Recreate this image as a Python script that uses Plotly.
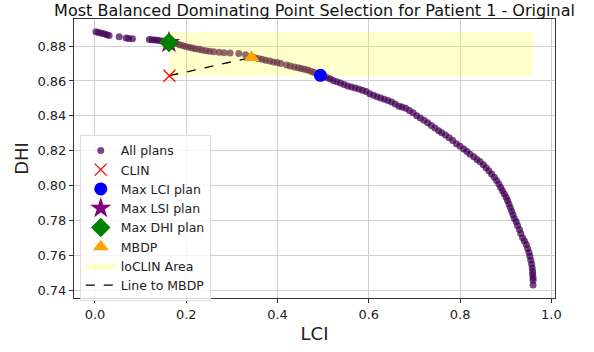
import plotly.graph_objects as go

# All plans (LCI, DHI)
lci = [0.002, 0.008, 0.014, 0.020, 0.026, 0.031, 0.053, 0.068, 0.074, 0.082,
       0.119, 0.125, 0.131, 0.137, 0.143, 0.150, 0.156,
       0.165, 0.172, 0.178, 0.185, 0.192, 0.199, 0.206, 0.213, 0.220, 0.228,
       0.235, 0.243, 0.251, 0.260, 0.272, 0.283, 0.296, 0.315, 0.330,
       0.350, 0.358, 0.366, 0.374, 0.383, 0.391, 0.399, 0.407, 0.420, 0.428,
       0.437, 0.445, 0.452, 0.459, 0.466, 0.473, 0.480, 0.487, 0.494, 0.501,
       0.508, 0.515, 0.522, 0.530, 0.538, 0.546, 0.554, 0.562, 0.570, 0.578,
       0.586, 0.594, 0.602, 0.610, 0.618, 0.626, 0.634, 0.642, 0.650, 0.658,
       0.666, 0.673, 0.681, 0.689, 0.697, 0.705, 0.713, 0.721, 0.729, 0.737,
       0.745, 0.753, 0.760, 0.768, 0.776, 0.784, 0.792, 0.800, 0.808, 0.815,
       0.822, 0.830, 0.837, 0.844, 0.851, 0.857, 0.863, 0.869, 0.875, 0.880,
       0.885, 0.889, 0.893, 0.897, 0.901, 0.904, 0.907, 0.910, 0.913, 0.916,
       0.919, 0.923, 0.926, 0.930, 0.933, 0.937, 0.941, 0.945, 0.948, 0.951,
       0.953, 0.955, 0.957, 0.958, 0.959, 0.959, 0.960, 0.960, 0.960]
dhi = [0.8882, 0.8878, 0.8874, 0.8870, 0.8865, 0.8860, 0.8853, 0.8846, 0.8843, 0.8842,
       0.8837, 0.8836, 0.8835, 0.8833, 0.8831, 0.8828, 0.8826,
       0.8822, 0.8818, 0.8814, 0.8808, 0.8803, 0.8797, 0.8793, 0.8789, 0.8785, 0.8781,
       0.8777, 0.8773, 0.8770, 0.8767, 0.8764, 0.8762, 0.8760, 0.8757, 0.8750,
       0.8733, 0.8728, 0.8724, 0.8719, 0.8714, 0.8709, 0.8705, 0.8700, 0.8692, 0.8686,
       0.8680, 0.8675, 0.8671, 0.8667, 0.8662, 0.8656, 0.8648, 0.8640, 0.8632, 0.8626,
       0.8620, 0.8612, 0.8603, 0.8595, 0.8588, 0.8580, 0.8571, 0.8565, 0.8560, 0.8554,
       0.8546, 0.8540, 0.8527, 0.8518, 0.8510, 0.8502, 0.8495, 0.8488, 0.8480, 0.8468,
       0.8455, 0.8450, 0.8443, 0.8430, 0.8418, 0.8400, 0.8388, 0.8375, 0.8360, 0.8345,
       0.8330, 0.8315, 0.8303, 0.8290, 0.8275, 0.8258, 0.8240, 0.8225, 0.8210, 0.8195,
       0.8180, 0.8165, 0.8150, 0.8137, 0.8120, 0.8102, 0.8085, 0.8066, 0.8048, 0.8030,
       0.8010, 0.7990, 0.7970, 0.7952, 0.7933, 0.7915, 0.7895, 0.7875, 0.7853, 0.7833,
       0.7812, 0.7793, 0.7772, 0.7748, 0.7725, 0.7702, 0.7683, 0.7663, 0.7640, 0.7617,
       0.7595, 0.7573, 0.7550, 0.7528, 0.7508, 0.7490, 0.7472, 0.7458, 0.7430]

clin = (0.163, 0.863)
max_lci = (0.494, 0.8632)
max_lsi = (0.162, 0.882)
max_dhi = (0.162, 0.882)
mbdp = (0.343, 0.8735)
area_x = [0.163, 0.960]
area_y = [0.863, 0.888]

fig = go.Figure()

fig.add_trace(go.Scatter(x=lci, y=dhi, mode="markers", name="All plans", legendrank=1,
                         marker=dict(size=7, color="#440154", opacity=0.72, line=dict(width=0))))
fig.add_trace(go.Scatter(x=[area_x[0], area_x[1], area_x[1], area_x[0], area_x[0]],
                         y=[area_y[0], area_y[0], area_y[1], area_y[1], area_y[0]],
                         mode="lines", fill="toself", fillcolor="rgba(255,255,0,0.2)",
                         line=dict(width=0), name="loCLIN Area", legendrank=7))
fig.add_trace(go.Scatter(x=[clin[0], mbdp[0]], y=[clin[1], mbdp[1]], mode="lines",
                         line=dict(color="black", dash="dash", width=1.3),
                         name="Line to MBDP", legendrank=8))
fig.add_trace(go.Scatter(x=[clin[0]], y=[clin[1]], mode="markers", name="CLIN", legendrank=2,
                         marker=dict(symbol="x-thin", size=12, line=dict(color="red", width=1.3), color="red")))
fig.add_trace(go.Scatter(x=[max_lci[0]], y=[max_lci[1]], mode="markers", name="Max LCI plan", legendrank=3,
                         marker=dict(symbol="circle", size=13, color="blue", line=dict(width=0))))
fig.add_trace(go.Scatter(x=[max_lsi[0]], y=[max_lsi[1]], mode="markers", name="Max LSI plan", legendrank=4,
                         marker=dict(symbol="star", size=17, color="purple", line=dict(width=0))))
fig.add_trace(go.Scatter(x=[max_dhi[0]], y=[max_dhi[1]], mode="markers", name="Max DHI plan", legendrank=5,
                         marker=dict(symbol="diamond", size=15, color="green", line=dict(width=0))))
fig.add_trace(go.Scatter(x=[mbdp[0]], y=[mbdp[1]], mode="markers", name="MBDP", legendrank=6,
                         marker=dict(symbol="triangle-up", size=14, color="orange", line=dict(width=0))))

axis_common = dict(showline=True, linecolor="#333", linewidth=1, mirror=True,
                   ticks="outside", ticklen=4, tickcolor="#333",
                   showgrid=True, gridcolor="#d0d0d0", gridwidth=1, zeroline=False,
                   tickfont=dict(size=13, color="#222"))

fig.update_layout(
    width=594, height=352,
    margin=dict(l=74, r=39, t=19, b=52),
    paper_bgcolor="white", plot_bgcolor="white",
    font=dict(family="DejaVu Sans", color="#222"),
    title=dict(text="Most Balanced Dominating Point Selection for Patient 1 - Original",
               x=0.5, xref="paper", xanchor="center", y=0.97, yref="container", yanchor="middle",
               font=dict(size=16, color="#111")),
    xaxis=dict(range=[-0.046, 1.008], tickvals=[0, 0.2, 0.4, 0.6, 0.8, 1.0], tickformat=".1f",
               title=dict(text="LCI", font=dict(size=18), standoff=6), **axis_common),
    yaxis=dict(range=[0.7356, 0.8955], tickvals=[0.74, 0.76, 0.78, 0.80, 0.82, 0.84, 0.86, 0.88],
               tickformat=".2f", title=dict(text="DHI", font=dict(size=18), standoff=4), **axis_common),
    legend=dict(x=0.012, y=0.585, xanchor="left", yanchor="top",
                bgcolor="rgba(255,255,255,0.8)", bordercolor="#ddd", borderwidth=1,
                font=dict(size=12.5, color="#222"), itemsizing="trace", tracegroupgap=0),
    showlegend=True,
)

fig.write_html("out.html")
